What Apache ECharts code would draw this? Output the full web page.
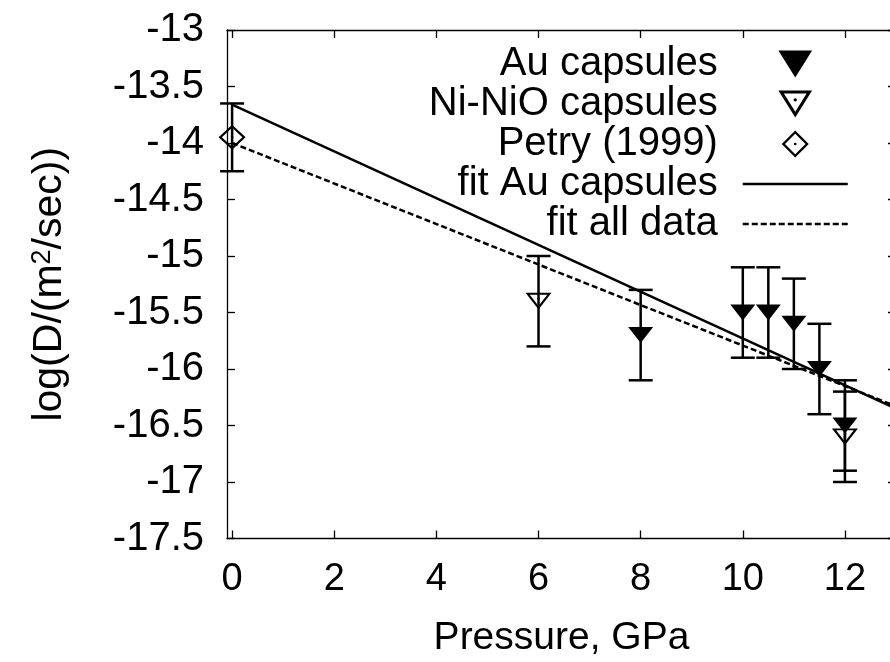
<!DOCTYPE html>
<html>
<head>
<meta charset="utf-8">
<script src="https://cdn.jsdelivr.net/npm/echarts@6/dist/echarts.min.js"></script>
<style>html,body{margin:0;padding:0;background:#fff;}#c{width:890px;height:662px;}</style>
</head>
<body>
<div id="c"></div>
<script>
// ---- data ----
const xTicks = [0, 2, 4, 6, 8, 10, 12];
const auX = [8, 10, 10.5, 11, 11.5, 12];
const auY = [-15.7, -15.5, -15.5, -15.6, -16.0, -16.5];
const auErr = [0.4, 0.4, 0.4, 0.4, 0.4, 0.4];
const niX = [6, 12];
const niY = [-15.4, -16.6];
const niErr = [0.4, 0.4];
const petryX = [0];
const petryY = [-13.95];
const petryErr = [0.3];
const fitAuX = [0, 13];
const fitAuY = [-13.66, -16.35];
const fitAllX = [0, 13];
const fitAllY = [-14.0, -16.33];

const FONT = "'Liberation Sans', Arial, Helvetica, sans-serif";
const TRI_FILLED = 'path://M0,0 L100,0 L50,80 Z';
const TRI_OPEN = 'path://M0,0 L100,0 L50,80 Z M16.25,9 L50,63 L83.75,9 Z M45,27.7 A5,5 0 1,0 55,27.7 A5,5 0 1,0 45,27.7 Z';
const DIAMOND_OPEN = 'path://M50,0 L100,50 L50,100 L0,50 Z M50,12 L12,50 L50,88 L88,50 Z M45,50 A5,5 0 1,0 55,50 A5,5 0 1,0 45,50 Z';

function pts(xs, ys) { return xs.map((x, i) => [x, ys[i]]); }
function errPts(xs, ys, es) { return xs.map((x, i) => [x, ys[i] - es[i], ys[i] + es[i]]); }

function errRender(params, api) {
  const x = api.value(0);
  const pLo = api.coord([x, api.value(1)]);
  const pHi = api.coord([x, api.value(2)]);
  const h = 12;
  const st = { stroke: '#000', lineWidth: 2.5 };
  return {
    type: 'group',
    children: [
      { type: 'line', shape: { x1: pLo[0], y1: pLo[1], x2: pHi[0], y2: pHi[1] }, style: st },
      { type: 'line', shape: { x1: pLo[0] - h, y1: pLo[1], x2: pLo[0] + h, y2: pLo[1] }, style: st },
      { type: 'line', shape: { x1: pHi[0] - h, y1: pHi[1], x2: pHi[0] + h, y2: pHi[1] }, style: st }
    ]
  };
}

const chart = echarts.init(document.getElementById('c'), null, { renderer: 'canvas' });
const axisLineStyle = { color: '#000', width: 1.3 };
const hiddenDot = { color: 'rgba(0,0,0,0)', borderWidth: 0, opacity: 0 };
chart.setOption({
  animation: false,
  backgroundColor: '#fff',
  textStyle: { fontFamily: FONT, color: '#000' },
  grid: { left: 227, top: 30, width: 669, height: 508.5, containLabel: false, outerBoundsMode: 'none' },
  legend: {
    orient: 'vertical',
    right: 36,
    top: 39,
    align: 'right',
    itemWidth: 105,
    itemHeight: 27,
    itemGap: 0,
    symbolKeepAspect: true,
    lineStyle: { width: 2.5 },
    textStyle: { fontFamily: FONT, fontSize: 40, color: '#000', lineHeight: 40, padding: [0, 20, 0, 0] },
    data: [
      { name: 'Au capsules' },
      { name: 'Ni-NiO capsules' },
      { name: 'Petry (1999)' },
      { name: 'fit Au capsules', itemStyle: hiddenDot },
      { name: 'fit all data', itemStyle: hiddenDot }
    ]
  },
  xAxis: [{
    type: 'value', min: -0.1, max: 13, position: 'bottom',
    name: 'Pressure, GPa', nameLocation: 'middle', nameGap: 80,
    nameMoveOverlap: false,
    nameTextStyle: { fontFamily: FONT, fontSize: 39, color: '#000' },
    axisLine: { show: true, onZero: false, lineStyle: axisLineStyle },
    axisTick: { show: true, inside: true, length: 8, lineStyle: axisLineStyle, customValues: xTicks },
    axisLabel: { show: true, margin: 22, fontFamily: FONT, fontSize: 38, color: '#000', customValues: xTicks },
    splitLine: { show: false }
  }, {
    type: 'value', min: -0.1, max: 13, position: 'top',
    axisLine: { show: true, onZero: false, lineStyle: axisLineStyle },
    axisTick: { show: true, inside: true, length: 8, lineStyle: axisLineStyle, customValues: xTicks },
    axisLabel: { show: false },
    splitLine: { show: false }
  }],
  yAxis: [{
    type: 'value', min: -17.5, max: -13, interval: 0.5, position: 'left',
    name: 'log(D/(m{sup|2}/sec))', nameLocation: 'middle', nameRotate: 90, nameGap: 157,
    nameMoveOverlap: false,
    nameTextStyle: {
      fontFamily: FONT, fontSize: 41, color: '#000',
      rich: { sup: { fontFamily: FONT, fontSize: 27, color: '#000', verticalAlign: 'top', lineHeight: 27 } }
    },
    axisLine: { show: true, onZero: false, lineStyle: axisLineStyle },
    axisTick: { show: true, inside: true, length: 8, lineStyle: axisLineStyle },
    axisLabel: { show: true, margin: 23, fontFamily: FONT, fontSize: 40, color: '#000' },
    splitLine: { show: false }
  }, {
    type: 'value', min: -17.5, max: -13, interval: 0.5, position: 'right',
    axisLine: { show: true, onZero: false, lineStyle: axisLineStyle },
    axisTick: { show: true, inside: true, length: 8, lineStyle: axisLineStyle },
    axisLabel: { show: false },
    splitLine: { show: false }
  }],
  series: [
    { type: 'custom', name: 'auErr', renderItem: errRender, data: errPts(auX, auY, auErr), z: 2, silent: true },
    { type: 'custom', name: 'niErr', renderItem: errRender, data: errPts(niX, niY, niErr), z: 2, silent: true },
    { type: 'custom', name: 'petryErr', renderItem: errRender, data: errPts(petryX, petryY, petryErr), z: 2, silent: true },
    { type: 'scatter', name: 'Au capsules', symbol: TRI_FILLED, symbolSize: [25, 20], symbolKeepAspect: true,
      itemStyle: { color: '#000', opacity: 1 }, data: pts(auX, auY), z: 3 },
    { type: 'scatter', name: 'Ni-NiO capsules', symbol: TRI_OPEN, symbolSize: [26, 21], symbolKeepAspect: true,
      itemStyle: { color: '#000', opacity: 1 }, data: pts(niX, niY), z: 3 },
    { type: 'scatter', name: 'Petry (1999)', symbol: DIAMOND_OPEN, symbolSize: [27, 25], symbolKeepAspect: true,
      itemStyle: { color: '#000', opacity: 1 }, data: pts(petryX, petryY), z: 3 },
    { type: 'line', name: 'fit Au capsules', data: pts(fitAuX, fitAuY), symbol: 'none', showSymbol: false,
      lineStyle: { color: '#000', width: 2.5, type: 'solid' }, itemStyle: { color: '#000' }, z: 4 },
    { type: 'line', name: 'fit all data', data: pts(fitAllX, fitAllY), symbol: 'none', showSymbol: false,
      lineStyle: { color: '#000', width: 2.5, type: [6, 3] }, itemStyle: { color: '#000' }, z: 4 }
  ]
});
</script>
</body>
</html>
